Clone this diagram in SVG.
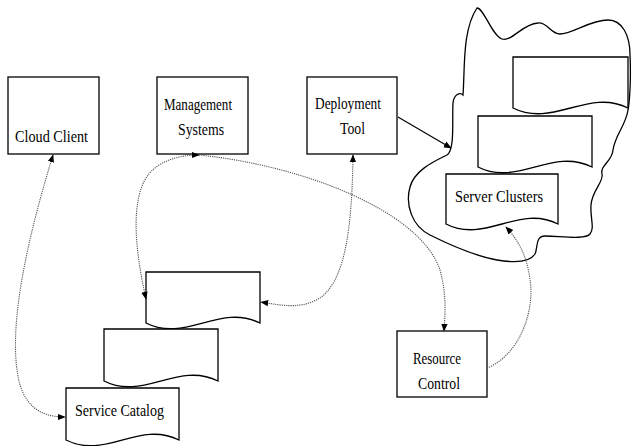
<svg xmlns="http://www.w3.org/2000/svg" width="632" height="446" viewBox="0 0 632 446">
<style>
.box{fill:#fff;stroke:#000;stroke-width:1.3}
.doc{fill:#fff;stroke:#000;stroke-width:1.3}
.cloud{fill:none;stroke:#000;stroke-width:1.3}
.lbl{font-family:"Liberation Serif","Times New Roman",serif;font-size:16.5px;fill:#000}
.dot{fill:none;stroke:#555;stroke-width:1.1;stroke-dasharray:1.2 1}
.solid{fill:none;stroke:#000;stroke-width:1.2}
</style>
<defs>
<marker id="ah" viewBox="0 0 10 10" refX="9" refY="5" markerWidth="8" markerHeight="8" markerUnits="userSpaceOnUse" orient="auto-start-reverse">
<path d="M0,1 L10,5 L0,9 Z" fill="#000"/>
</marker>
</defs>
<rect width="632" height="446" fill="#fff"/>

<g id="cloud">
<path class="cloud" d="M477,8 C484,8 492,36 502,39 C512,42 522,24 538,23 C548,22 550,34 560,34 C572,34 590,20 608,20 C622,20 630,35 630,55 C631,75 630,100 628,110 C626,125 615,135 613,150 C612,162 600,165 602,174 C604,182 592,190 591,205 C590,218 595,228 590,234 C585,240 560,236 545,236 C535,236 538,248 535,254 C530,262 515,263 497,260 C475,256 450,245 430,235 C412,226 405,205 410,187 C414,172 430,163 447,155 C455,150 452,120 453,103 C454,94 460,92 463,95 C465,70 462,30 477,8 Z"/>
</g>

<g id="cloud-client">
<rect class="box" x="8" y="77" width="91" height="77"/>
<text class="lbl" x="15" y="142" textLength="73" lengthAdjust="spacingAndGlyphs">Cloud Client</text>
</g>

<g id="management-systems">
<rect class="box" x="157" y="77" width="91" height="77"/>
<text class="lbl" x="164" y="110" textLength="68" lengthAdjust="spacingAndGlyphs">Management</text>
<text class="lbl" x="178" y="135" textLength="46" lengthAdjust="spacingAndGlyphs">Systems</text>
</g>

<g id="deployment-tool">
<rect class="box" x="307" y="77" width="90" height="77"/>
<text class="lbl" x="315" y="109" textLength="66" lengthAdjust="spacingAndGlyphs">Deployment</text>
<text class="lbl" x="340" y="134" textLength="25" lengthAdjust="spacingAndGlyphs">Tool</text>
</g>

<g id="resource-control">
<rect class="box" x="397" y="331" width="90" height="66"/>
<text class="lbl" x="413" y="364" textLength="48" lengthAdjust="spacingAndGlyphs">Resource</text>
<text class="lbl" x="418" y="389" textLength="42" lengthAdjust="spacingAndGlyphs">Control</text>
</g>

<g id="catalog-doc-1">
<path class="doc" d="M146,272 H260 V323 C220,303 185,343 146,323 Z"/>
</g>
<g id="catalog-doc-2">
<path class="doc" d="M104,329 H218 V381 C178,361 143,401 104,381 Z"/>
</g>
<g id="service-catalog">
<path class="doc" d="M66,388 H179 V440 C139,420 105,460 66,440 Z"/>
<text class="lbl" x="75" y="416" textLength="89" lengthAdjust="spacingAndGlyphs">Service Catalog</text>
</g>

<g id="cluster-doc-1">
<path class="doc" d="M513,57 H628 V108 C588,88 553,128 513,108 Z"/>
</g>
<g id="cluster-doc-2">
<path class="doc" d="M478,116 H592 V167 C552,147 517,187 478,167 Z"/>
</g>
<g id="server-clusters">
<path class="doc" d="M446,174 H558 V224 C519,204 485,244 446,224 Z"/>
<text class="lbl" x="455" y="202" textLength="88" lengthAdjust="spacingAndGlyphs">Server Clusters</text>
</g>

<g id="connectors">
<path class="solid" d="M398,117 L451,148" marker-end="url(#ah)"/>
<path class="dot" d="M53,155 C30,230 5,330 20,385 C28,410 45,417 65,417" marker-start="url(#ah)" marker-end="url(#ah)"/>
<path class="dot" d="M146,299 C135,250 130,200 148,175 C160,160 180,155 199,155" marker-start="url(#ah)" marker-end="url(#ah)"/>
<path class="dot" d="M199,155 C300,165 420,210 440,270 C447,295 445,315 444,331" marker-end="url(#ah)"/>
<path class="dot" d="M353,155 C352,230 345,280 320,298 C300,310 280,305 261,302" marker-start="url(#ah)" marker-end="url(#ah)"/>
<path class="dot" d="M487,368 C520,355 535,310 530,280 C527,255 518,240 506,227" marker-end="url(#ah)"/>
</g>
</svg>
